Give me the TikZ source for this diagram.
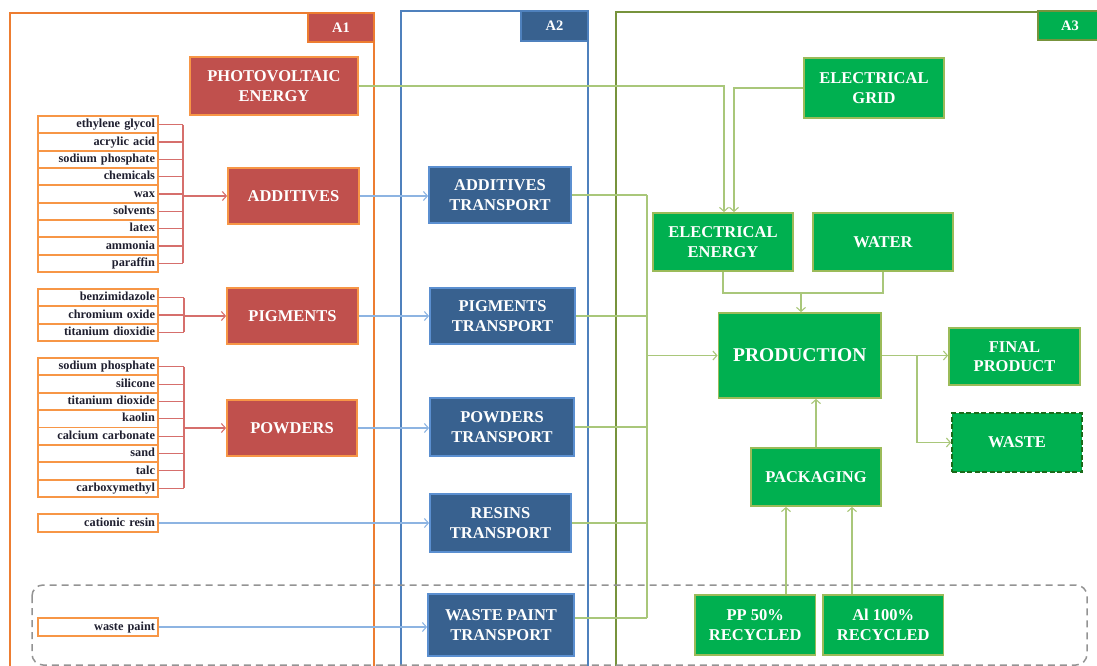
\documentclass[tikz,border=0pt]{standalone}
\usepackage{fontspec}
\setmainfont{Liberation Serif}
\usetikzlibrary{arrows.meta,calc}
\definecolor{rd}{HTML}{C0504D}
\definecolor{orb}{HTML}{F79646}
\definecolor{frA}{HTML}{ED7D31}
\definecolor{frB}{HTML}{4F81BD}
\definecolor{frC}{HTML}{77933C}
\definecolor{tb}{HTML}{38618F}
\definecolor{tbb}{HTML}{5B8FD0}
\definecolor{gf}{HTML}{00B050}
\definecolor{gb}{HTML}{9BBB59}
\definecolor{gl}{HTML}{A9C77A}
\definecolor{bl}{HTML}{8DB4E2}
\definecolor{rl}{HTML}{D66F6C}
\definecolor{wd}{HTML}{1A6B1A}
\definecolor{txt}{HTML}{1F1F2F}
\newcommand\bigf{\fontsize{16.5}{19.5}\selectfont\bfseries}
\newcommand\prodf{\fontsize{19.5}{22}\selectfont\bfseries}
\newcommand\itemf{\fontsize{12.3}{14}\selectfont\bfseries}
\newcommand\labf{\fontsize{14.5}{16}\selectfont\bfseries}
\begin{document}
\begin{tikzpicture}[x=1pt,y=-1pt,
  box/.style={line width=1.8pt, text=white, align=center, inner sep=0pt, font=\bigf},
  redbox/.style={box, fill=rd, draw=orb},
  trbox/.style={box, fill=tb, draw=tbb},
  grbox/.style={box, fill=gf, draw=gb},
  itembox/.style={draw=orb, line width=1.8pt, fill=white, text=txt, font=\itemf,
    text width=114pt, align=right, inner xsep=3pt, inner ysep=0pt,
    text height=8.8pt, text depth=2.6pt, minimum height=17.33pt},
  conn/.style={line width=1.1pt},
  tip/.style={-{Straight Barb[length=4pt,width=9pt]}},
  gline/.style={conn, draw=gl},
  garrow/.style={gline, tip},
  barrow/.style={conn, draw=bl, tip},
  rline/.style={conn, draw=rl},
  rarrow/.style={rline, tip}]
\useasboundingbox (0,0) rectangle (1097,666);
% frames
\draw[line width=2pt, draw=frA] (10,666) -- (10,13) -- (374,13) -- (374,666);
\draw[line width=2pt, draw=frB] (401,666) -- (401,11) -- (588,11) -- (588,666);
\draw[line width=2pt, draw=frC] (616,666) -- (616,12) -- (1097,12);
% dashed region
\draw[draw=gray!85, line width=1.5pt, dash pattern=on 7pt off 5pt, rounded corners=11pt] (32,585) rectangle (1087,665);
% frame labels
\node[box, fill=rd, draw=frA, font=\labf, minimum width=66pt, minimum height=29pt] (lA1) at (341,27.5) {A1};
\node[box, fill=tb, draw=frB, font=\labf, minimum width=67pt, minimum height=30pt] (lA2) at (554.5,26) {A2};
\node[box, fill=gf, draw=frC, font=\labf, minimum width=64pt, minimum height=29pt] (lA3) at (1070,25.5) {A3};
% A1 main boxes
\node[redbox, minimum width=168pt, minimum height=58pt] (pv) at (274,86) {PHOTOVOLTAIC\\ENERGY};
\node[redbox, minimum width=131pt, minimum height=56pt] (add) at (293.5,196) {ADDITIVES};
\node[redbox, minimum width=131pt, minimum height=56pt] (pig) at (292.5,316) {PIGMENTS};
\node[redbox, minimum width=130pt, minimum height=56pt] (pow) at (292,428) {POWDERS};
% lists
\coordinate (brA) at (183,0);
\coordinate (brB) at (184,0);
\foreach \t [count=\i] in {ethylene glycol, acrylic acid, sodium phosphate, chemicals, wax, solvents, latex, ammonia, paraffin}
  \node[itembox] (a\i) at (98,{116+17.33*\i-8.67}) {\t};
\foreach \t [count=\i] in {benzimidazole, chromium oxide, titanium dioxidie}
  \node[itembox] (p\i) at (98,{289+17.33*\i-8.67}) {\t};
\foreach \t [count=\i] in {sodium phosphate, silicone, titanium dioxide, kaolin, calcium carbonate, sand, talc, carboxymethyl}
  \node[itembox] (w\i) at (98,{358+17.375*\i-8.69}) {\t};
\node[itembox] (cat) at (98,523) {cationic resin};
\node[itembox] (wp) at (98,627) {waste paint};
% brackets
\foreach \i in {1,...,9} \draw[rline] (a\i.east) -- (a\i.east -| brA);
\draw[rline] (a1.east -| brA) -- (a9.east -| brA);
\draw[rarrow] (brA |- add.west) -- (add.west);
\foreach \i in {1,2,3} \draw[rline] (p\i.east) -- (p\i.east -| brB);
\draw[rline] (p1.east -| brB) -- (p3.east -| brB);
\draw[rarrow] (brB |- pig.west) -- (pig.west);
\foreach \i in {1,...,8} \draw[rline] (w\i.east) -- (w\i.east -| brB);
\draw[rline] (w1.east -| brB) -- (w8.east -| brB);
\draw[rarrow] (brB |- pow.west) -- (pow.west);
% A2 transport boxes
\node[trbox, minimum width=142pt, minimum height=56pt] (addT) at (500,195) {ADDITIVES\\TRANSPORT};
\node[trbox, minimum width=145pt, minimum height=56pt] (pigT) at (502.5,316) {PIGMENTS\\TRANSPORT};
\node[trbox, minimum width=144pt, minimum height=58pt] (powT) at (502,427) {POWDERS\\TRANSPORT};
\node[trbox, minimum width=141pt, minimum height=58pt] (resT) at (500.5,523) {RESINS\\TRANSPORT};
\node[trbox, minimum width=146pt, minimum height=62pt] (wpT) at (501,625) {WASTE PAINT\\TRANSPORT};
% blue arrows
\draw[barrow] (add.east) -- (add.east -| addT.west);
\draw[barrow] (pig.east) -- (pig.east -| pigT.west);
\draw[barrow] (pow.east) -- (pow.east -| powT.west);
\draw[barrow] (cat.east) -- (cat.east -| resT.west);
\draw[barrow] (wp.east) -- (wp.east -| wpT.west);
% A3 boxes
\node[grbox, minimum width=140pt, minimum height=60pt] (grid) at (874,88) {ELECTRICAL\\GRID};
\node[grbox, minimum width=140pt, minimum height=58pt] (ee) at (723,242) {ELECTRICAL\\ENERGY};
\node[grbox, minimum width=140pt, minimum height=58pt] (water) at (883,242) {WATER};
\node[grbox, font=\prodf, minimum width=162.5pt, minimum height=85pt] (prod) at (799.75,355.5) {PRODUCTION};
\node[grbox, minimum width=131pt, minimum height=57pt] (fin) at (1014.5,356.5) {FINAL\\PRODUCT};
\node[grbox, draw=wd, dash pattern=on 5pt off 2.5pt, minimum width=130pt, minimum height=59pt] (waste) at (1017,442.5) {WASTE};
\node[grbox, minimum width=130pt, minimum height=58pt] (pack) at (816,477) {PACKAGING};
\node[grbox, minimum width=120.5pt, minimum height=60pt] (pp) at (755.25,625) {PP 50\%\\RECYCLED};
\node[grbox, minimum width=120.5pt, minimum height=60pt] (al) at (883.25,625) {Al 100\%\\RECYCLED};
% green connectors
\coordinate (bus) at (647,0);
\coordinate (wpo) at ($(wpT.east)+(0,-7)$);
\draw[gline] (addT.east) -- (addT.east -| bus);
\draw[gline] (pigT.east) -- (pigT.east -| bus);
\draw[gline] (powT.east) -- (powT.east -| bus);
\draw[gline] (resT.east) -- (resT.east -| bus);
\draw[gline] (wpo) -- (wpo -| bus);
\draw[gline] (addT.east -| bus) -- (wpo -| bus);
\draw[garrow] (bus |- prod.west) -- (prod.west);
\coordinate (pvx) at (724,0);
\coordinate (gx) at (734,0);
\draw[garrow] (pv.east) -- (pv.east -| pvx) -- (pvx |- ee.north);
\draw[garrow] (grid.west) -- (grid.west -| gx) -- (gx |- ee.north);
\coordinate (mj) at (801,293);
\draw[gline] (ee.south) -- (ee.south |- mj) -- (water.south |- mj) -- (water.south);
\draw[garrow] (mj) -- (mj |- prod.north);
\draw[garrow] (prod.east) -- (prod.east -| fin.west);
\coordinate (br) at (917,0);
\draw[garrow] (prod.east -| br) -- (br |- waste.west) -- (waste.west);
\draw[garrow] (pack.north) -- (pack.north |- prod.south);
\coordinate (ppx) at (786,0);
\coordinate (alx) at (852,0);
\draw[garrow] (ppx |- pp.north) -- (ppx |- pack.south);
\draw[garrow] (alx |- al.north) -- (alx |- pack.south);
\end{tikzpicture}
\end{document}
